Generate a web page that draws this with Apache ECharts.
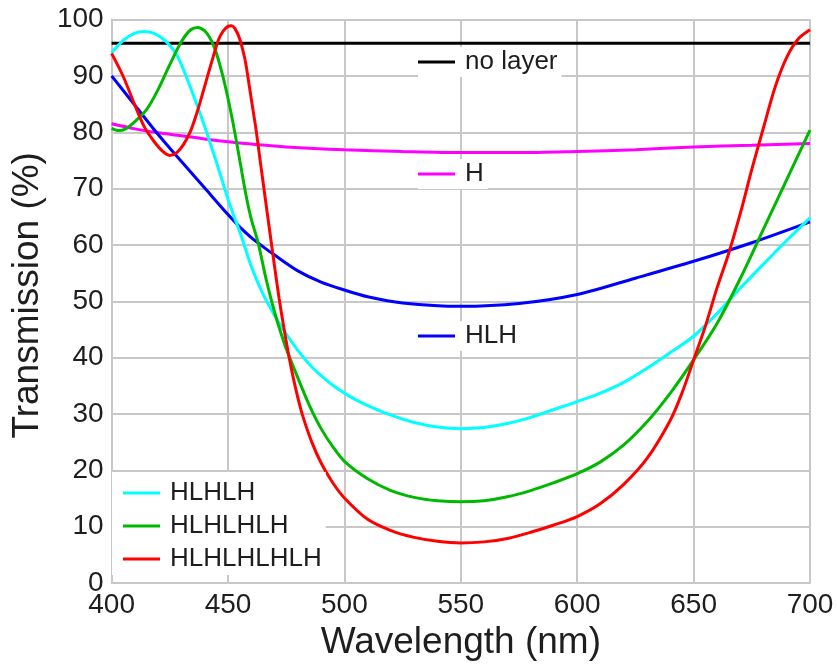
<!DOCTYPE html>
<html>
<head>
<meta charset="utf-8">
<script src="https://cdn.jsdelivr.net/npm/echarts@6/dist/echarts.min.js"></script>
<style>
html,body{margin:0;padding:0;background:#fff;}
#chart{width:837px;height:668px;}
</style>
</head>
<body>
<div id="chart"></div>
<script>
// ---- data ----
const xTicks = [400, 450, 500, 550, 600, 650, 700];
const yTicks = [0, 10, 20, 30, 40, 50, 60, 70, 80, 90, 100];

const noLayerX = [400, 700];
const noLayerY = [95.8, 95.8];

const hX = [400,410,420,430,440,450,460,475,500,525,550,575,600,625,650,675,700];
const hY = [81.5,80.6,79.9,79.4,78.8,78.3,77.9,77.4,76.9,76.6,76.4,76.4,76.6,76.9,77.4,77.7,78.0];

const hlhX = [400,410,420,430,440,450,455,460,465,470,480,490,500,510,525,550,575,600,625,650,675,700];
const hlhY = [90,84.8,79.6,74.8,70.1,65.4,63.2,61.3,59.7,58.2,55.4,53.4,52,50.8,49.7,49.1,49.6,51.2,54.1,57.1,60.4,64.1];

const hlhlhX = [400,405,410,414,418,422,425,428,431,434,437,440,444,447,450,453,456,460,465,470,475,480,485,490,495,500,505,510,520,530,540,550,560,570,580,590,600,610,620,630,640,650,660,670,680,690,700];
const hlhlhY = [94.1,96.3,97.6,97.9,97.6,96.6,95.4,93.7,91,87.8,84.5,81,76,72.1,68.1,64.6,61.2,56.2,51.3,47.5,44.2,41.3,38.8,36.8,35.1,33.7,32.5,31.5,29.8,28.5,27.7,27.4,27.6,28.3,29.4,30.8,32.2,33.7,35.6,38.1,40.9,43.8,47.8,52.3,56.6,60.8,64.8];

const hlhlhlhX = [400,403,406,410,415,420,425,430,434,437,440,442,444,446,448,450,452,454,456,458,460,463,466,468,470,472,475,480,485,490,495,500,510,520,530,540,550,560,570,580,590,600,610,620,630,640,650,660,670,680,690,700];
const hlhlhlhY = [80.7,80.3,80.6,81.9,84.0,87.6,92.0,96.1,98.2,98.6,98.0,96.9,95.2,92.7,89.6,86.0,82.0,77.5,72.8,68.3,64.6,60.3,54.6,51.2,48.1,45.3,41.6,36.4,31.5,27.4,24.2,21.6,18.5,16.4,15.2,14.6,14.4,14.6,15.3,16.4,17.8,19.4,21.5,24.5,28.6,33.7,39.6,46,54,62.8,71.6,80.4];

const hlhlhlhlhX = [400,405,410,414,418,422,425,428,431,434,437,440,443,446,448,450,451.5,453,455,457,458,460,462,464,466,468,470,472,474,476,478,480,482,486,490,495,500,510,520,530,540,550,560,570,580,590,600,610,620,630,640,645,650,655,660,665,670,675,680,685,690,695,700];
const hlhlhlhlhY = [94,89.9,84.8,81.0,78.5,76.6,75.9,76.4,77.9,80.3,83.9,88.2,92.5,96.5,98,98.8,98.9,98.4,96.6,93.5,91.3,85.9,80.6,74.4,68.3,62.2,56.2,50.4,45.3,40.6,36.5,32.9,29.8,25,21.3,17.8,15.1,11.3,9.3,8.1,7.4,7.1,7.3,7.9,9.0,10.3,11.8,14.1,17.5,22.1,28.9,33.7,39.6,45.5,52.3,58.4,65.5,73.4,80.8,88,93.3,96.6,98.2];

function pairs(xs, ys){ return xs.map((x,i)=>[x, ys[i]]); }

const FONT = '"Liberation Sans", Arial, Helvetica, sans-serif';
const TXT = '#1e1e1e';
const GRID = '#c8c8c8';

function line(name, xs, ys, color){
  return {
    name: name, type: 'line', data: pairs(xs, ys),
    symbol: 'none', smooth: 0.3, silent: true,
    lineStyle: {color: color, width: 3},
    itemStyle: {color: color}
  };
}

function legendBox(names, left, top, padding){
  return {
    data: names, left: left, top: top, orient: 'vertical',
    icon: 'rect', itemWidth: 37, itemHeight: 3, itemGap: 7,
    padding: padding,
    backgroundColor: '#ffffff',
    textStyle: {fontSize: 26, color: TXT, fontFamily: FONT, padding: [0,0,0,5]},
    selectedMode: false
  };
}

const chart = echarts.init(document.getElementById('chart'), null, {renderer: 'canvas'});
chart.setOption({
  animation: false,
  backgroundColor: '#ffffff',
  grid: {left: 111.6, right: 27, top: 19.6, bottom: 85, containLabel: false, outerBoundsMode: 'none'},
  xAxis: {
    type: 'value', min: xTicks[0], max: xTicks[xTicks.length-1], interval: 50,
    name: 'Wavelength (nm)', nameLocation: 'middle', nameGap: 40,
    nameTextStyle: {fontSize: 37, color: TXT, fontFamily: FONT},
    axisLine: {show: true, lineStyle: {color: GRID, width: 2}},
    axisTick: {show: true, inside: true, length: 8, lineStyle: {color: GRID, width: 2}},
    axisLabel: {fontSize: 28, color: TXT, fontFamily: FONT, margin: 8},
    splitLine: {show: true, lineStyle: {color: GRID, width: 2}}
  },
  yAxis: {
    type: 'value', min: yTicks[0], max: yTicks[yTicks.length-1], interval: 10,
    name: 'Transmission (%)', nameLocation: 'middle', nameGap: 63,
    nameTextStyle: {fontSize: 37, color: TXT, fontFamily: FONT, padding: [0,0,0,12]},
    axisLine: {show: true, lineStyle: {color: GRID, width: 2}},
    axisTick: {show: true, inside: true, length: 8, lineStyle: {color: GRID, width: 2}},
    axisLabel: {fontSize: 28, color: TXT, fontFamily: FONT, margin: 8},
    splitLine: {show: true, lineStyle: {color: GRID, width: 2}}
  },
  legend: [
    legendBox(['no layer'], 418, 47, [2, 4, 2, 0]),
    legendBox(['H'], 418, 159, [2, 4, 2, 0]),
    legendBox(['HLH'], 418, 321, [2, 4, 2, 0]),
    legendBox(['HLHLH', 'HLHLHLH', 'HLHLHLHLH'], 112, 472, [8, 4, 3, 11])
  ],
  series: [
    line('no layer', noLayerX, noLayerY, '#000000'),
    line('H', hX, hY, '#ff00ff'),
    line('HLH', hlhX, hlhY, '#0000ff'),
    line('HLHLH', hlhlhX, hlhlhY, '#00ffff'),
    line('HLHLHLH', hlhlhlhX, hlhlhlhY, '#00b800'),
    line('HLHLHLHLH', hlhlhlhlhX, hlhlhlhlhY, '#ff0000')
  ]
});
</script>
</body>
</html>
